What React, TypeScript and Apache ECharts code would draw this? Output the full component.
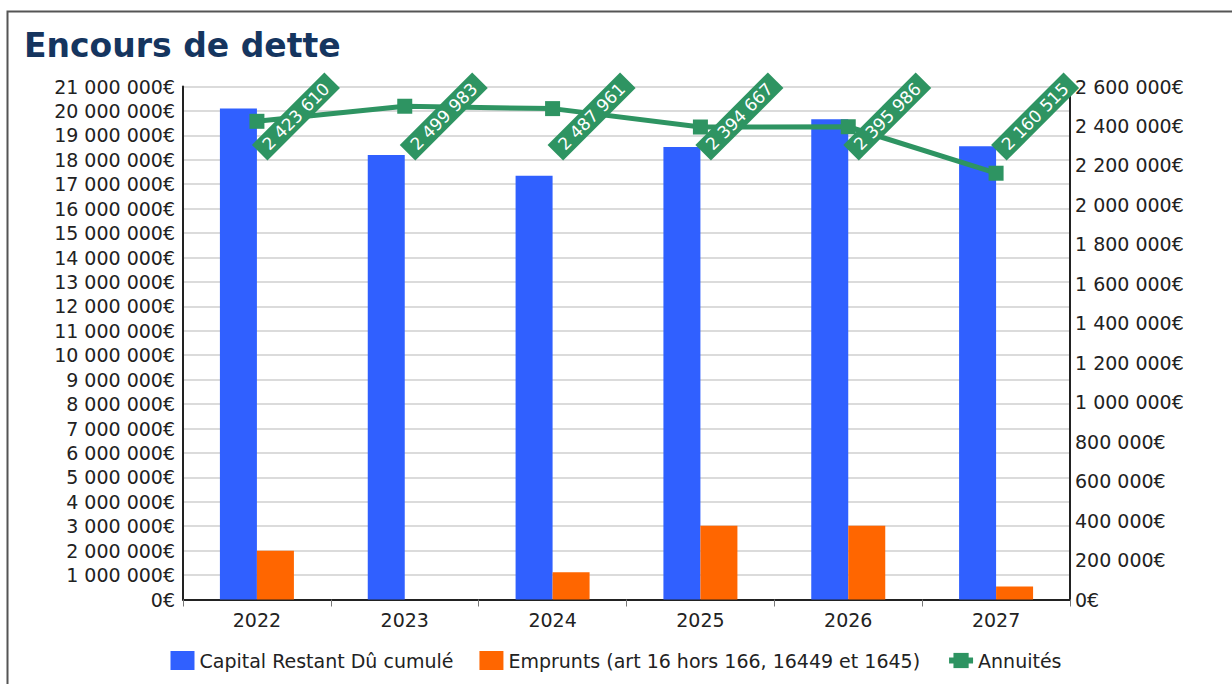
import React, { useEffect, useRef } from "react";
import * as echarts from "echarts";

const years = ["2022", "2023", "2024", "2025", "2026", "2027"];
const capitalRestant = [20100000, 18200000, 17350000, 18520000, 19660000, 18550000];
const emprunts = [2000000, 0, 1120000, 3020000, 3020000, 530000];
const annuites = [2423610, 2499983, 2487961, 2394667, 2395986, 2160515];

const BLUE = "#3060ff";
const ORANGE = "#ff6600";
const GREEN = "#2e9462";
const FONT = '"DejaVu Sans", Verdana, sans-serif';

const groupDigits = (v: number) =>
  String(Math.round(v)).replace(/\B(?=(\d{3})+(?!\d))/g, " ");
const euro = (v: number) => groupDigits(v) + "€";

export default function App() {
  const ref = useRef<HTMLDivElement>(null);
  useEffect(() => {
    if (!ref.current) return;
    const chart = echarts.init(ref.current, undefined, { renderer: "svg" });
    chart.setOption({
      animation: false,
      backgroundColor: "#ffffff",
      title: {
        text: "Encours de dette",
        left: 19,
        top: 24,
        textStyle: { fontFamily: FONT, fontSize: 33, fontWeight: "bold", color: "#15355f" },
      },
      graphic: [
        {
          type: "rect",
          left: 5,
          top: 9,
          shape: { width: 1260, height: 720 },
          style: { fill: "none", stroke: "#555", lineWidth: 2 },
          silent: true,
        },
      ],
      legend: {
        bottom: 9,
        left: "center",
        itemWidth: 24,
        itemHeight: 19,
        itemGap: 26,
        textStyle: { fontFamily: FONT, fontSize: 19, color: "#222" },
        data: [
          { name: "Capital Restant Dû cumulé", icon: "rect" },
          { name: "Emprunts (art 16 hors 166, 16449 et 1645)", icon: "rect" },
          { name: "Annuités", lineStyle: { width: 6 } },
        ],
      },
      grid: { left: 183, right: 162, top: 86.5, bottom: 84.5, containLabel: false },
      xAxis: {
        type: "category",
        data: years,
        axisLine: { lineStyle: { color: "#222", width: 2 } },
        axisTick: { show: true, length: 7, lineStyle: { color: "#777" } },
        axisLabel: { fontFamily: FONT, fontSize: 19, color: "#222", margin: 11 },
      },
      yAxis: [
        {
          type: "value",
          min: 0,
          max: 21000000,
          interval: 1000000,
          axisLine: { show: true, lineStyle: { color: "#222", width: 2 } },
          axisTick: { show: false },
          splitLine: { lineStyle: { color: "#cfcfcf", width: 1.5 } },
          axisLabel: { fontFamily: FONT, fontSize: 19, color: "#222", margin: 8, formatter: (v: number) => euro(v) },
        },
        {
          type: "value",
          min: 0,
          max: 2600000,
          interval: 200000,
          position: "right",
          axisLine: { show: true, lineStyle: { color: "#222", width: 2 } },
          axisTick: { show: false },
          splitLine: { show: false },
          axisLabel: { fontFamily: FONT, fontSize: 19, color: "#222", margin: 5, formatter: (v: number) => euro(v) },
        },
      ],
      series: [
        {
          name: "Capital Restant Dû cumulé",
          type: "bar",
          data: capitalRestant,
          barWidth: 37,
          barGap: "0%",
          itemStyle: { color: BLUE },
        },
        {
          name: "Emprunts (art 16 hors 166, 16449 et 1645)",
          type: "bar",
          data: emprunts,
          barWidth: 37,
          barGap: "0%",
          itemStyle: { color: ORANGE },
        },
        {
          name: "Annuités",
          type: "line",
          yAxisIndex: 1,
          data: annuites,
          symbol: "rect",
          symbolSize: 15,
          lineStyle: { color: GREEN, width: 5 },
          itemStyle: { color: GREEN },
          z: 5,
        },
        {
          name: "labels",
          type: "custom",
          yAxisIndex: 1,
          z: 10,
          silent: true,
          data: annuites.map((v, i) => [i, v]),
          renderItem: (params: any, api: any) => {
            const p = api.coord([api.value(0), api.value(1)]);
            const cs = params.coordSys;
            let cx = p[0] + 39;
            let cy = cs.y + 30;
            const maxX = 1190;
            if (cx > maxX) {
              const d = cx - maxX;
              cx = maxX;
              cy += d * 0.6;
            }
            return {
              type: "text",
              x: cx,
              y: cy,
              rotation: Math.PI / 4,
              style: {
                text: groupDigits(api.value(1)),
                fill: "#ffffff",
                font: '17px "DejaVu Sans", Verdana, sans-serif',
                align: "center",
                verticalAlign: "middle",
                backgroundColor: GREEN,
                padding: [3, 8, 2, 8],
              },
            };
          },
        },
      ],
    });
    return () => chart.dispose();
  }, []);
  return (
    <div
      ref={ref}
      style={{ position: "fixed", left: 0, top: 0, width: 1232, height: 684, background: "#fff" }}
    />
  );
}
